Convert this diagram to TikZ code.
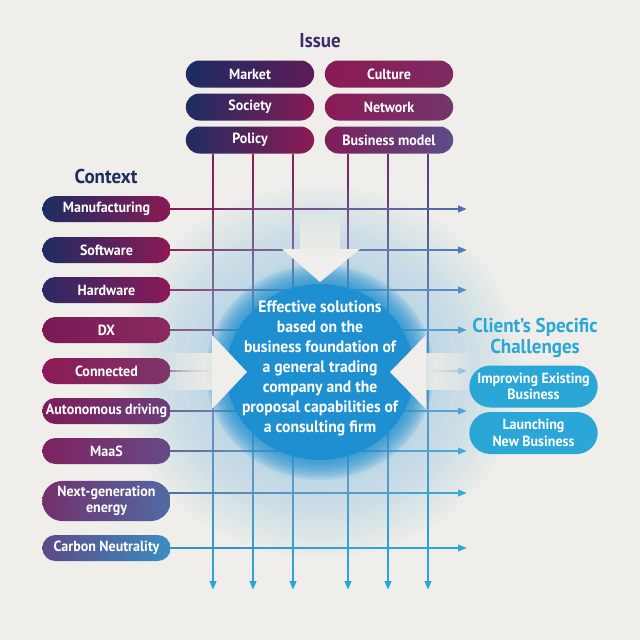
\documentclass[tikz,border=0pt]{standalone}
\usepackage{fontspec}
\setmainfont{PT Sans}[FakeStretch=0.95]
\usetikzlibrary{arrows.meta,calc,shapes.misc}

\definecolor{bgc}{HTML}{EFEEEA}
\definecolor{cyanb}{HTML}{2BA7D7}
\definecolor{coreblue}{HTML}{1E8FD0}
\definecolor{haloblue}{HTML}{8CC6E6}
\definecolor{issuec}{HTML}{3E2B6C}
\definecolor{contextc}{HTML}{1D2E5E}

\pgfdeclarelayer{under}
\pgfsetlayers{under,main}

% colour-graded connector: from, to, start colour, end colour
\newcommand\gline[4]{%
  \foreach \k in {1,...,24}{
    \pgfmathsetmacro\ta{0.96*(\k-1)/24}
    \pgfmathsetmacro\tb{0.96*\k/24}
    \pgfmathtruncatemacro\pc{100*(\k-0.5)/24}
    \draw[grid,color=#4!\pc!#3] ($(#1)!\ta!(#2)$) -- ($(#1)!\tb!(#2)$);
  }
  \draw[grid,color=#4,-{Triangle[length=9pt,width=6.5pt]}] ($(#1)!0.96!(#2)$) -- (#2);
}

\begin{document}
\begin{tikzpicture}[x=1pt,y=-1pt,
    every node/.style={align=center},
    pill/.style={rounded rectangle,minimum width=135pt,minimum height=26pt,inner ysep=5pt,
                 text=white,font=\fontsize{14.75}{16.5}\selectfont\bfseries},
    goalbox/.style={pill,fill=cyanb,minimum height=42pt},
    title/.style={font=\fontsize{20}{21}\selectfont\bfseries},
    coretext/.style={text=white,font=\fontsize{16.5}{20}\selectfont\bfseries},
    grid/.style={line width=2.6pt}]

  \useasboundingbox (0,0) rectangle (640,640);

  % issue boxes
  \node[title,text=issuec] (issue) at (320,41) {Issue};
  \foreach \nm/\txt/\x/\y/\ca/\cb in {market/Market/250/74/1C2D62/5E1A58,
      society/Society/250/107/1C2D62/861A56, policy/Policy/250/140/1F2C62/8E1A55,
      culture/Culture/389/74/8A1A55/7E2A62, network/Network/389/107/8B1A57/72366B,
      bizmodel/Business model/389/140/7F1D5A/5D4C88}{
    \definecolor{bl}{HTML}{\ca}\definecolor{br}{HTML}{\cb}
    \node[pill,minimum height=27pt,left color=bl,right color=br] (\nm) at (\x,\y) {\txt};
  }

  % context boxes
  \node[title,text=contextc] (context) at (106,176) {Context};
  \foreach \n/\txt/\y/\ca/\cb in {1/Manufacturing/209/1C2D62/8B1A55,
      2/Software/250/1E2C62/8D1A55, 3/Hardware/290/2A2A62/8C1A57, 4/DX/330/7A1A56/8A2A61,
      5/Connected/371/8C1A55/7E366A, 6/Autonomous driving/411/7D1D5A/6B3F7A,
      7/MaaS/451/7E2260/664A86, 8/{Next-generation\\energy}/501/742F6D/4F6BA5,
      9/Carbon Neutrality/548/5D4985/3A8EC2}{
    \definecolor{bl}{HTML}{\ca}\definecolor{br}{HTML}{\cb}
    \node[pill,left color=bl,right color=br] (ctx\n) at (106.5,\y) {\txt};
  }

  % client side
  \node[title,text=cyanb] (client) at (535,338) {Client’s Specific\\Challenges};
  \node[goalbox] (improve) at (533.5,386.5) {Improving Existing\\Business};
  \node[goalbox] (launch) at (533.5,433) {Launching\\New Business};

  \node[coretext] (core) at (320,368) {Effective solutions\\based on the\\business foundation of\\
    a general trading\\company and the\\proposal capabilities of\\a consulting firm};

  \begin{pgfonlayer}{under}
    \fill[bgc] (0,0) rectangle (640,640);
    \coordinate (rend) at (467,0);
    \coordinate (ctr) at (320,372);

    % grid
    \foreach \n/\src/\x/\ca in {1/policy/213/8A1B56, 2/policy/253/8C1A57, 3/policy/293/861D5B,
        4/bizmodel/348/7A2462, 5/bizmodel/388/6A3070, 6/bizmodel/428/5A3E80}{
      \definecolor{ls}{HTML}{\ca}
      \coordinate (d\n) at (\x,590);
      \coordinate (u\n) at (\src.south -| d\n);
      \gline{u\n}{d\n}{ls}{cyanb}
    }
    \foreach \n/\dy/\ca/\cb in {1/0/8B1A55/4D6FAE, 2/0/8D1A55/4678B5, 3/0/8C1A57/4084BE,
        4/0/8A2A61/3A8FC8, 5/0/7E366A/3498CF, 6/0/6B3F7A/30A0D3, 7/0/664A86/2EA6D6,
        8/8/4F6BA5/2BA8D8, 9/0/3A8EC2/2BA8D8}{
      \definecolor{ls}{HTML}{\ca}\definecolor{le}{HTML}{\cb}
      \coordinate (hs\n) at ([xshift=-2pt,yshift=\dy pt]ctx\n.east);
      \coordinate (he\n) at (hs\n -| rend);
      \gline{hs\n}{he\n}{ls}{le}
    }

    % glow and core
    \foreach \i in {1,...,30}
      \fill[haloblue,opacity=.045] (ctr) ellipse [x radius={6.7pt*\i}, y radius={6.2pt*\i}];
    \foreach \i in {1,...,8}
      \fill[coreblue,opacity=.15] (ctr) ellipse [x radius={94pt+2.5pt*\i}, y radius={88pt+2.5pt*\i}];
    \fill[coreblue] (ctr) ellipse [x radius=94pt, y radius=88pt];

    % white arrows into the core
    \foreach \i in {1,...,10}
      \fill[bgc,opacity=.2] (300,249) rectangle (340,{249-3.5*\i});
    \fill[bgc] (282,249) -- (360,249) -- (320,282) -- cycle;
    \foreach \i in {1,...,10}
      \fill[bgc,opacity=.2] (212,353) rectangle ({212-4.5*\i},390);
    \fill[bgc] (212,335) -- (212,409) -- (247,372) -- cycle;
    \foreach \i in {1,...,10}
      \fill[bgc,opacity=.2] (426,353) rectangle ({426+4.5*\i},390);
    \fill[bgc] (426,335) -- (426,409) -- (390,372) -- cycle;
  \end{pgfonlayer}
\end{tikzpicture}
\end{document}
